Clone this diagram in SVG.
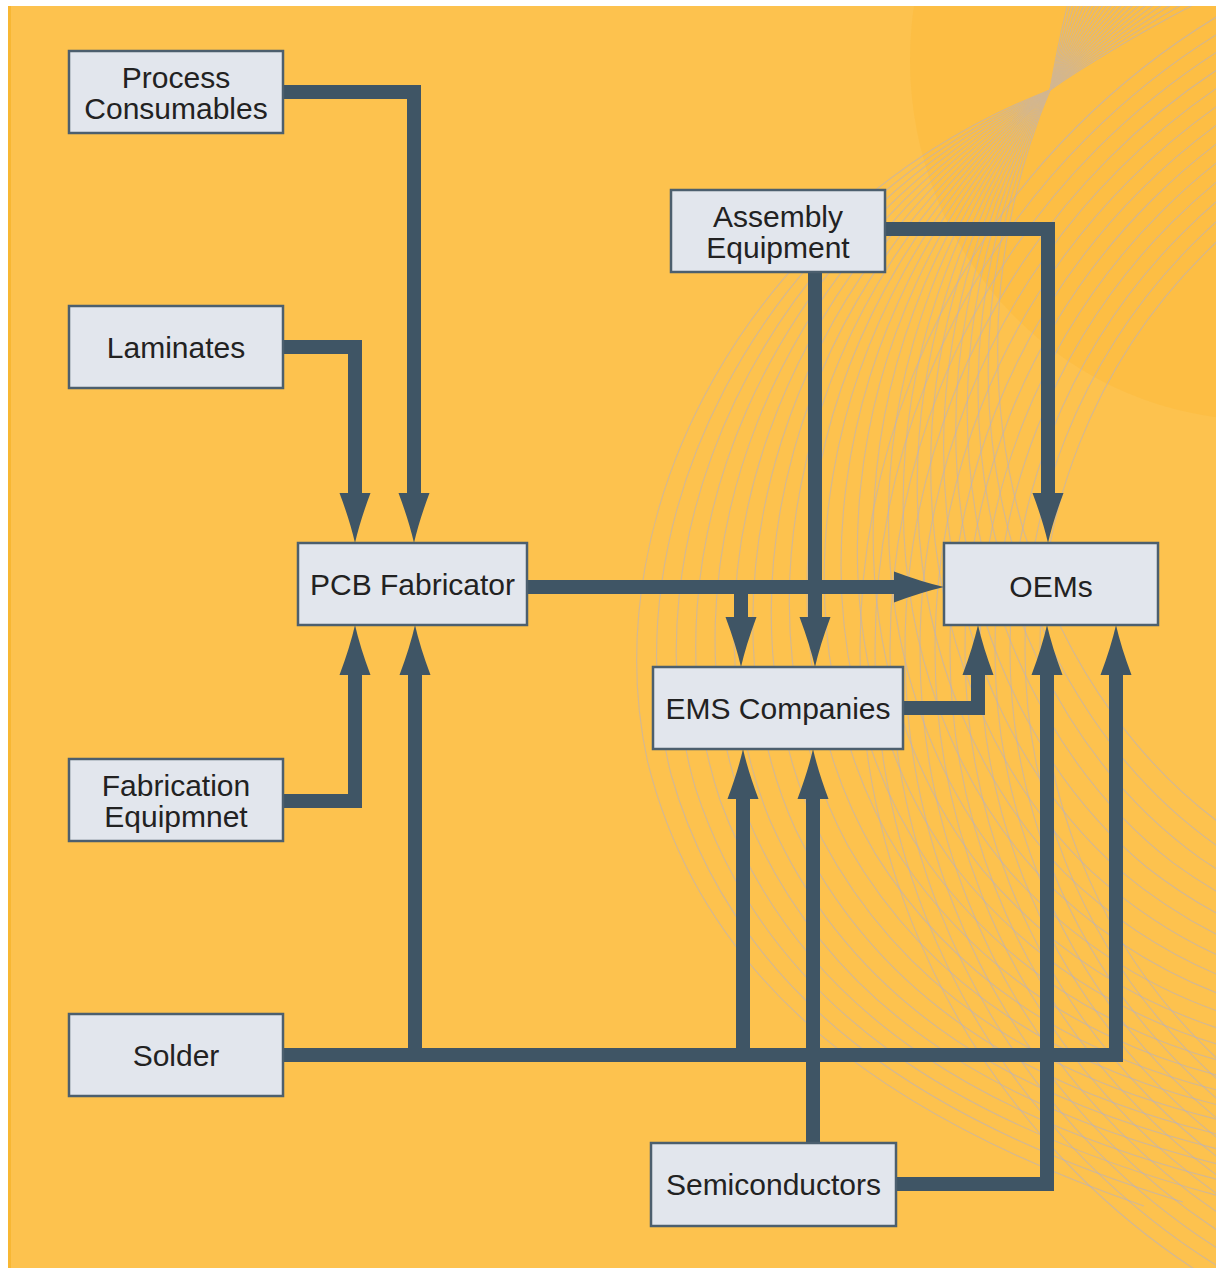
<svg xmlns="http://www.w3.org/2000/svg" xmlns:xlink="http://www.w3.org/1999/xlink" width="1216" height="1268" viewBox="0 0 1216 1268">
<style>
.box{fill:#E2E6ED;stroke:#4C5F6E;stroke-width:2.5}
.lbl{font-family:"Liberation Sans",Arial,sans-serif;font-size:30px;fill:#222222;text-anchor:middle}
.con{fill:none;stroke:#3F5565;stroke-width:14;stroke-linejoin:miter;stroke-linecap:butt}
.ah{fill:#3F5565}
.deco{fill:none;stroke:#B8B2C2;stroke-width:1.1;opacity:0.6}
</style>
<defs>
<clipPath id="bgclip"><rect x="8" y="6" width="1208" height="1262"/></clipPath>
<path id="ah" d="M0,0 Q-5,-22 -15.5,-50 L15.5,-50 Q5,-22 0,0 Z"/>
<path id="fan" d="M1230,-40 Q1120,30 1050,90 C760,240 640,560 720,800 C800,1020 1000,1130 1260,1190"/>
</defs>
<rect x="0" y="0" width="1216" height="1268" fill="#FFFFFF"/>
<rect x="8" y="6" width="1208" height="1262" fill="#FDC24E"/>
<rect x="8" y="6" width="3" height="1262" fill="#F8B733"/>
<g id="decoration" clip-path="url(#bgclip)">
<ellipse cx="1260" cy="60" rx="350" ry="360" fill="#FCB837" opacity="0.4"/>
<g class="deco">
<use xlink:href="#fan" transform="rotate(6 1050 90)"/>
<use xlink:href="#fan" transform="rotate(4 1050 90)"/>
<use xlink:href="#fan" transform="rotate(2 1050 90)"/>
<use xlink:href="#fan"/>
<use xlink:href="#fan" transform="rotate(-2 1050 90)"/>
<use xlink:href="#fan" transform="rotate(-4 1050 90)"/>
<use xlink:href="#fan" transform="rotate(-6 1050 90)"/>
<use xlink:href="#fan" transform="rotate(-8 1050 90)"/>
<use xlink:href="#fan" transform="rotate(-10 1050 90)"/>
<use xlink:href="#fan" transform="rotate(-12 1050 90)"/>
<use xlink:href="#fan" transform="rotate(-14 1050 90)"/>
<use xlink:href="#fan" transform="rotate(-16 1050 90)"/>
<use xlink:href="#fan" transform="rotate(-18 1050 90)"/>
<use xlink:href="#fan" transform="rotate(-20 1050 90)"/>
<use xlink:href="#fan" transform="rotate(-22 1050 90)"/>
<use xlink:href="#fan" transform="rotate(-24 1050 90)"/>
<use xlink:href="#fan" transform="rotate(-26 1050 90)"/>
<use xlink:href="#fan" transform="rotate(-28 1050 90)"/>
<use xlink:href="#fan" transform="rotate(-30 1050 90)"/>
<use xlink:href="#fan" transform="rotate(-32 1050 90)"/>
<use xlink:href="#fan" transform="rotate(-34 1050 90)"/>
<use xlink:href="#fan" transform="rotate(-36 1050 90)"/>
<use xlink:href="#fan" transform="rotate(-38 1050 90)"/>
<use xlink:href="#fan" transform="rotate(-40 1050 90)"/>
</g>
<g class="deco">
<circle cx="1600" cy="650" r="560"/>
<circle cx="1600" cy="650" r="575"/>
<circle cx="1600" cy="650" r="590"/>
<circle cx="1600" cy="650" r="605"/>
<circle cx="1600" cy="650" r="620"/>
<circle cx="1600" cy="650" r="635"/>
<circle cx="1600" cy="650" r="650"/>
<circle cx="1600" cy="650" r="665"/>
<circle cx="1600" cy="650" r="680"/>
<circle cx="1600" cy="650" r="695"/>
<circle cx="1600" cy="650" r="710"/>
<circle cx="1600" cy="650" r="725"/>
<circle cx="1600" cy="650" r="740"/>
</g>
</g>
<g id="connectors">
<path class="con" d="M283,92 H414 V495"/>
<path class="con" d="M283,347 H355 V495"/>
<path class="con" d="M283,801 H355 V675"/>
<path class="con" d="M283,1055 H1116 V675"/>
<path class="con" d="M415,1055 V675"/>
<path class="con" d="M743,1055 V799"/>
<path class="con" d="M813,1143 V799"/>
<path class="con" d="M896,1184 H1047 V675"/>
<path class="con" d="M885,229 H1048 V495"/>
<path class="con" d="M815,272 V617"/>
<path class="con" d="M527,587 H894"/>
<path class="con" d="M741,587 V617"/>
<path class="con" d="M903,708 H978 V675"/>
<g class="ah">
<use xlink:href="#ah" transform="translate(414,543)"/>
<use xlink:href="#ah" transform="translate(355,543)"/>
<use xlink:href="#ah" transform="translate(355,625) rotate(180)"/>
<use xlink:href="#ah" transform="translate(415,625) rotate(180)"/>
<use xlink:href="#ah" transform="translate(1116,625) rotate(180)"/>
<use xlink:href="#ah" transform="translate(1047,625) rotate(180)"/>
<use xlink:href="#ah" transform="translate(978,625) rotate(180)"/>
<use xlink:href="#ah" transform="translate(743,749) rotate(180)"/>
<use xlink:href="#ah" transform="translate(813,749) rotate(180)"/>
<use xlink:href="#ah" transform="translate(1048,543)"/>
<use xlink:href="#ah" transform="translate(815,667)"/>
<use xlink:href="#ah" transform="translate(741,667)"/>
<use xlink:href="#ah" transform="translate(944,587) rotate(-90)"/>
</g>
</g>
<g id="process-consumables">
<rect class="box" x="69" y="51" width="214" height="82"/>
<text class="lbl" x="176" y="88">Process</text>
<text class="lbl" x="176" y="119">Consumables</text>
</g>
<g id="laminates">
<rect class="box" x="69" y="306" width="214" height="82"/>
<text class="lbl" x="176" y="358">Laminates</text>
</g>
<g id="fabrication-equipment">
<rect class="box" x="69" y="759" width="214" height="82"/>
<text class="lbl" x="176" y="796">Fabrication</text>
<text class="lbl" x="176" y="827">Equipmnet</text>
</g>
<g id="solder">
<rect class="box" x="69" y="1014" width="214" height="82"/>
<text class="lbl" x="176" y="1066">Solder</text>
</g>
<g id="pcb-fabricator">
<rect class="box" x="298" y="543" width="229" height="82"/>
<text class="lbl" x="412.5" y="595">PCB Fabricator</text>
</g>
<g id="assembly-equipment">
<rect class="box" x="671" y="190" width="214" height="82"/>
<text class="lbl" x="778" y="227">Assembly</text>
<text class="lbl" x="778" y="258">Equipment</text>
</g>
<g id="oems">
<rect class="box" x="944" y="543" width="214" height="82"/>
<text class="lbl" x="1051" y="597">OEMs</text>
</g>
<g id="ems-companies">
<rect class="box" x="653" y="667" width="250" height="82"/>
<text class="lbl" x="778" y="719">EMS Companies</text>
</g>
<g id="semiconductors">
<rect class="box" x="651" y="1143" width="245" height="83"/>
<text class="lbl" x="773.5" y="1195">Semiconductors</text>
</g>
</svg>
